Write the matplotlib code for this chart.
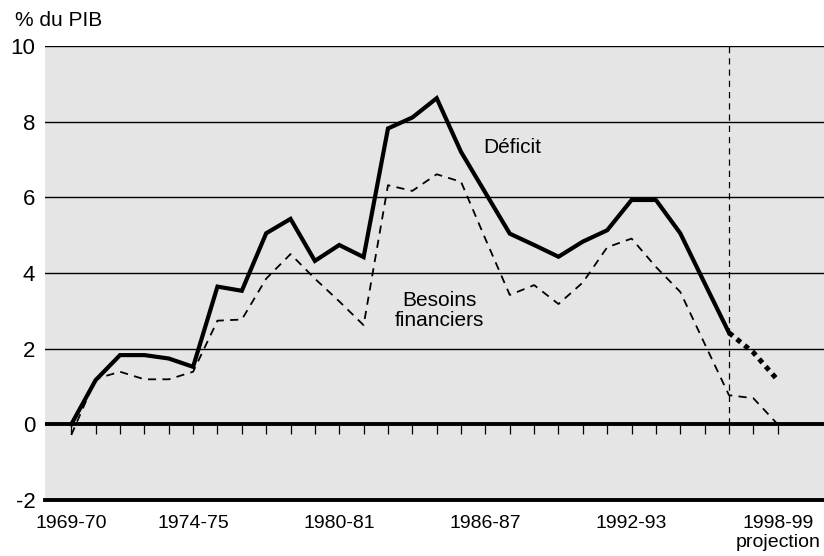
import matplotlib
matplotlib.use("Agg")
import matplotlib.pyplot as plt

plt.rcParams['font.family'] = ['Liberation Sans', 'DejaVu Sans']

years = [f"{1969 + i}-{(70 + i) % 100:02d}" for i in range(30)]
deficit = [0.0, 1.17, 1.83, 1.83, 1.74, 1.52, 3.64, 3.53, 5.05, 5.43,
           4.32, 4.74, 4.42, 7.82, 8.11, 8.62, 7.2, 6.12, 5.04, 4.74,
           4.43, 4.83, 5.13, 5.93, 5.93, 5.05, 3.73, 2.42, 1.9, 1.17]
besoins = [-0.28, 1.2, 1.39, 1.19, 1.19, 1.39, 2.74, 2.77, 3.85, 4.5,
           3.85, 3.25, 2.62, 6.32, 6.17, 6.61, 6.41, 4.9, 3.42, 3.68,
           3.18, 3.75, 4.68, 4.91, 4.16, 3.5, 2.13, 0.77, 0.69, 0.0]
proj_start = 27
label_idx = [0, 5, 11, 17, 23, 29]
label_txt = ["1969-70", "1974-75", "1980-81", "1986-87", "1992-93", "1998-99\nprojection"]
yticks = [-2, 0, 2, 4, 6, 8, 10]

fig = plt.figure(figsize=(8.24, 5.56), dpi=100)
ax = fig.add_axes([45/824, 1 - 500/556, 1 - 45/824, (500 - 46)/556])
ax.set_facecolor('#e5e5e5')
ax.set_xlim(-1.08, 30.9)
ax.set_ylim(-2, 10)

for y in [2, 4, 6, 8, 10]:
    ax.axhline(y, color='black', lw=1.0, zorder=1)
ax.axhline(0, color='black', lw=2.8, zorder=2)

x = list(range(len(years)))
ax.vlines(x, -0.26, 0, color='black', lw=0.9, zorder=2)

ax.vlines(proj_start, 0, 10, color='black', lw=0.9, linestyles=(0, (5, 4)), zorder=2)

ax.plot(x, besoins, color='black', lw=1.3, linestyle=(0, (4.5, 3.5)), zorder=3)
ax.plot(x[:proj_start + 1], deficit[:proj_start + 1], color='black', lw=3, zorder=4,
        solid_joinstyle='miter')
ax.plot(x[proj_start:], deficit[proj_start:], color='black', lw=3.6,
        linestyle=(0, (1, 1)), zorder=4)

ax.text(18.1, 7.33, "Déficit", fontsize=15, ha='center', va='center')
ax.text(15.13, 3.0, "Besoins\nfinanciers", fontsize=15, ha='center', va='center',
        linespacing=1.05)

for s in ['top', 'right', 'left']:
    ax.spines[s].set_visible(False)
ax.spines['bottom'].set_linewidth(2.8)

ax.set_yticks(yticks)
ax.set_yticklabels([str(v) for v in yticks], fontsize=16)
ax.tick_params(axis='y', length=0, pad=7)
ax.set_xticks(label_idx)
ax.set_xticklabels(label_txt, fontsize=14, linespacing=1.1)
ax.tick_params(axis='x', length=0, pad=11)

fig.text(15/824, 1 - 20/556, "% du PIB", fontsize=15, ha='left', va='center')

fig.savefig("out.png", dpi=100)
